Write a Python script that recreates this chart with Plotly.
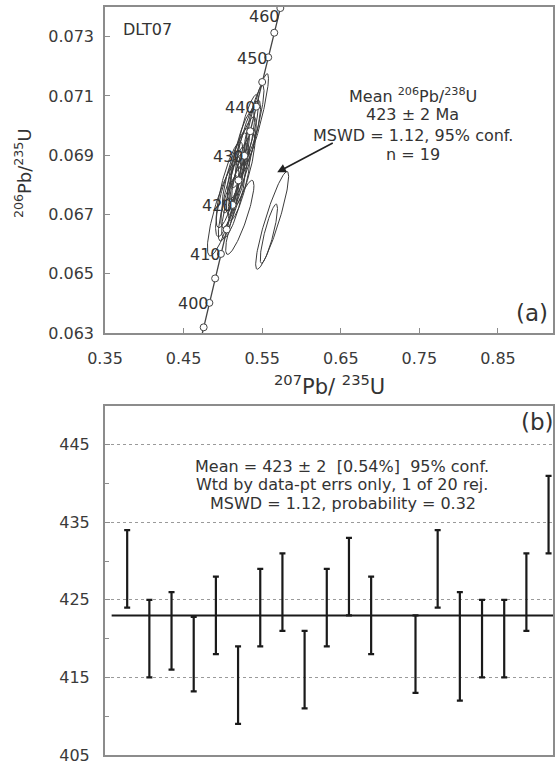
import numpy as np
import plotly.graph_objects as go

# ---------------- data: panel (a) concordia diagram ----------------
conc_age = [390, 395, 400, 405, 410, 415, 420, 425, 430, 435, 440, 445, 450, 455, 460, 465]
conc_x = [0.46828, 0.47553, 0.48281, 0.49013, 0.49749, 0.50488, 0.51231, 0.51977,
          0.52728, 0.53481, 0.54239, 0.55001, 0.55766, 0.56535, 0.57307, 0.58084]
conc_y = [0.062366, 0.063191, 0.064016, 0.064841, 0.065667, 0.066494, 0.067322, 0.068150,
          0.068979, 0.069808, 0.070638, 0.071469, 0.072301, 0.073132, 0.073965, 0.074798]
label_ages = [400, 410, 420, 430, 440, 450, 460]

# error ellipses: centre (207Pb/235U, 206Pb/238U), 2-sigma half widths, error correlation
ell_x = [0.5003, 0.5215, 0.5627, 0.5585, 0.5067, 0.5124, 0.5084, 0.5184, 0.5150, 0.5259,
         0.5197, 0.5255, 0.5252, 0.5319, 0.5316, 0.5393, 0.5420, 0.5071, 0.5134, 0.5206]
ell_y = [0.06715, 0.06690, 0.06680, 0.06635, 0.06760, 0.06780, 0.06800, 0.06820, 0.06840, 0.06850,
         0.06870, 0.06890, 0.06920, 0.06950, 0.06980, 0.07010, 0.07020, 0.06720, 0.06745, 0.06800]
ell_ex = [0.020, 0.018, 0.021, 0.011, 0.016, 0.015, 0.017, 0.014, 0.016, 0.015,
          0.014, 0.017, 0.015, 0.016, 0.014, 0.013, 0.016, 0.013, 0.015, 0.014]
ell_ey = [0.00155, 0.00125, 0.00165, 0.00100, 0.00135, 0.00125, 0.00145, 0.00120, 0.00135, 0.00125,
          0.00120, 0.00140, 0.00130, 0.00135, 0.00125, 0.00125, 0.00155, 0.00110, 0.00125, 0.00120]
ell_rho = [0.82, 0.86, 0.90, 0.85, 0.78, 0.80, 0.80, 0.78, 0.82, 0.80,
           0.78, 0.82, 0.80, 0.83, 0.80, 0.86, 0.90, 0.78, 0.80, 0.78]

x_ticks_a = [0.35, 0.45, 0.55, 0.65, 0.75, 0.85]
x_tick_labels_a = ["0.35", "0.45", "0.55", "0.65", "0.75", "0.85"]
y_ticks_a = [0.063, 0.065, 0.067, 0.069, 0.071, 0.073]
y_tick_labels_a = ["0.063", "0.065", "0.067", "0.069", "0.071", "0.073"]

arrow_head = (0.5691, 0.06842)
arrow_tail = (0.6417, 0.06944)

# ---------------- data: panel (b) weighted mean ----------------
spot_no = [1, 2, 3, 4, 5, 6, 7, 8, 9, 10, 11, 12, 14, 15, 16, 17, 18, 19, 20]
spot_age = [429, 420, 421, 418, 423, 414, 424, 426, 416, 424, 428, 423, 418, 429, 419, 420, 420, 426, 436]
spot_err = [5, 5, 5, 4.8, 5, 5, 5, 5, 5, 5, 5, 5, 5, 5, 7, 5, 5, 5, 5]
mean_age = 423
y_ticks_b = [405, 415, 425, 435, 445]
y_minor_b = [410, 420, 430, 440]

FONT = "DejaVu Sans"
TXT = "#333333"
AXC = "#8c8c8c"

fig = go.Figure()

# ellipses
t = np.linspace(0, 2 * np.pi, 120)
ex_all, ey_all = [], []
for cx, cy, ax_, ay_, r in zip(ell_x, ell_y, ell_ex, ell_ey, ell_rho):
    xs = cx + ax_ * np.cos(t)
    ys = cy + ay_ * (r * np.cos(t) + np.sqrt(1 - r * r) * np.sin(t))
    ex_all += list(xs) + [None]
    ey_all += list(ys) + [None]
fig.add_trace(go.Scatter(x=ex_all, y=ey_all, mode="lines", xaxis="x", yaxis="y",
                         line=dict(color="#3c3c3c", width=1), hoverinfo="skip", showlegend=False))

# concordia
fig.add_trace(go.Scatter(x=conc_x, y=conc_y, mode="lines", xaxis="x", yaxis="y",
                         line=dict(color="#444444", width=1.3), showlegend=False))
fig.add_trace(go.Scatter(x=conc_x[1:-1], y=conc_y[1:-1], mode="markers", xaxis="x", yaxis="y",
                         marker=dict(symbol="circle", size=7, color="white",
                                     line=dict(color="#444444", width=1)),
                         showlegend=False))

annotations = []
for age in label_ages:
    i = conc_age.index(age)
    annotations.append(dict(x=conc_x[i], y=conc_y[i], xref="x", yref="y", text=str(age),
                            showarrow=False, xanchor="right", yanchor="middle",
                            xshift=2, yshift=(-8 if age == 460 else -1),
                            font=dict(family=FONT, size=16, color=TXT)))

# weighted mean bars
fig.add_trace(go.Scatter(x=spot_no, y=spot_age, mode="markers", xaxis="x2", yaxis="y2",
                         marker=dict(size=1, color="rgba(0,0,0,0)"),
                         error_y=dict(type="data", array=spot_err, symmetric=True,
                                      color="#1a1a1a", thickness=2.2, width=3),
                         showlegend=False))

shapes = [dict(type="line", xref="x2", yref="y2", x0=0.3, x1=20.2, y0=mean_age, y1=mean_age,
               line=dict(color="#1a1a1a", width=2))]

# texts panel (a)
annotations += [
    dict(xref="x domain", yref="y domain", x=0.035, y=0.93, text="DLT07", showarrow=False,
         xanchor="left", yanchor="middle", font=dict(family=FONT, size=16, color=TXT)),
    dict(xref="x domain", yref="y domain", x=0.687, y=0.730,
         text="Mean <sup>206</sup>Pb/<sup>238</sup>U", showarrow=False,
         xanchor="center", yanchor="middle", font=dict(family=FONT, size=16, color=TXT)),
    dict(xref="x domain", yref="y domain", x=0.687, y=0.669, text="423 ± 2 Ma", showarrow=False,
         xanchor="center", yanchor="middle", font=dict(family=FONT, size=16, color=TXT)),
    dict(xref="x domain", yref="y domain", x=0.687, y=0.607, text="MSWD = 1.12, 95% conf.",
         showarrow=False, xanchor="center", yanchor="middle",
         font=dict(family=FONT, size=16, color=TXT)),
    dict(xref="x domain", yref="y domain", x=0.687, y=0.546, text="n = 19", showarrow=False,
         xanchor="center", yanchor="middle", font=dict(family=FONT, size=16, color=TXT)),
    dict(xref="x", yref="y", x=arrow_head[0], y=arrow_head[1], axref="x", ayref="y",
         ax=arrow_tail[0], ay=arrow_tail[1], text="", showarrow=True, arrowhead=2,
         arrowsize=1.1, arrowwidth=1.6, arrowcolor="#222222"),
    dict(xref="paper", yref="y domain", x=0.912, y=0.061, text="(a)", showarrow=False,
         xanchor="left", yanchor="middle", font=dict(family=FONT, size=23, color=TXT)),
    # axis titles
    dict(xref="paper", yref="paper", x=0.5, y=0.495, text="<sup>207</sup>Pb/ <sup>235</sup>U",
         showarrow=False, xanchor="center", yanchor="middle",
         font=dict(family=FONT, size=21, color=TXT)),
    dict(xref="paper", yref="paper", x=-0.183, y=0.778, text="<sup>206</sup>Pb/<sup>235</sup>U",
         showarrow=False, textangle=-90, xanchor="center", yanchor="middle",
         font=dict(family=FONT, size=18, color=TXT)),
]

# texts panel (b)
annotations += [
    dict(xref="x2 domain", yref="y2 domain", x=0.528, y=0.828,
         text="Mean = 423 ± 2 \u00a0[0.54%] \u00a095% conf.", showarrow=False,
         xanchor="center", yanchor="middle", font=dict(family=FONT, size=16, color=TXT)),
    dict(xref="x2 domain", yref="y2 domain", x=0.528, y=0.774,
         text="Wtd by data-pt errs only, 1 of 20 rej.", showarrow=False,
         xanchor="center", yanchor="middle", font=dict(family=FONT, size=16, color=TXT)),
    dict(xref="x2 domain", yref="y2 domain", x=0.532, y=0.722,
         text="MSWD = 1.12, probability = 0.32", showarrow=False,
         xanchor="center", yanchor="middle", font=dict(family=FONT, size=16, color=TXT)),
    dict(xref="paper", yref="y2 domain", x=0.925, y=0.955, text="(b)", showarrow=False,
         xanchor="left", yanchor="middle", font=dict(family=FONT, size=23, color=TXT)),
]

axis_common = dict(showline=True, linecolor=AXC, mirror=True, zeroline=False,
                   ticks="inside", ticklen=5, tickcolor=AXC,
                   tickfont=dict(family=FONT, size=16, color="#3a3a3a"))

fig.update_layout(
    width=556, height=761,
    margin=dict(l=105, r=3, t=7, b=6),
    paper_bgcolor="white", plot_bgcolor="white",
    template="none",
    font=dict(family=FONT, color=TXT),
    showlegend=False,
    xaxis=dict(domain=[0, 1], anchor="y", range=[0.35, 0.92], tickmode="array",
               tickvals=x_ticks_a, ticktext=x_tick_labels_a, showgrid=False, linewidth=1.5,
               ticklabelstandoff=10, **axis_common),
    yaxis=dict(domain=[0.5642, 1], anchor="x", range=[0.063, 0.074], tickmode="array",
               tickvals=y_ticks_a, ticktext=y_tick_labels_a, showgrid=False, linewidth=1.5,
               ticklabelstandoff=6, **axis_common),
    xaxis2=dict(domain=[0, 1], anchor="y2", range=[0, 20.2], showticklabels=False,
                showgrid=False, showline=True, linecolor=AXC, linewidth=2, mirror=True,
                zeroline=False, ticks=""),
    yaxis2=dict(domain=[0, 0.4666], anchor="x2", range=[405, 450], tickmode="array",
                tickvals=y_ticks_b, ticktext=[str(v) for v in y_ticks_b],
                showgrid=True, gridcolor="#9a9a9a", griddash="dot", gridwidth=1,
                linewidth=2, ticklabelstandoff=10, ticklabeloverflow="allow",
                minor=dict(tickmode="array", tickvals=y_minor_b, ticks="inside", ticklen=4,
                           tickcolor=AXC, showgrid=False),
                **axis_common),
    shapes=shapes,
    annotations=annotations,
)

fig.write_html("out.html", config={"displayModeBar": False},
               post_script="document.body.style.margin='0';")
